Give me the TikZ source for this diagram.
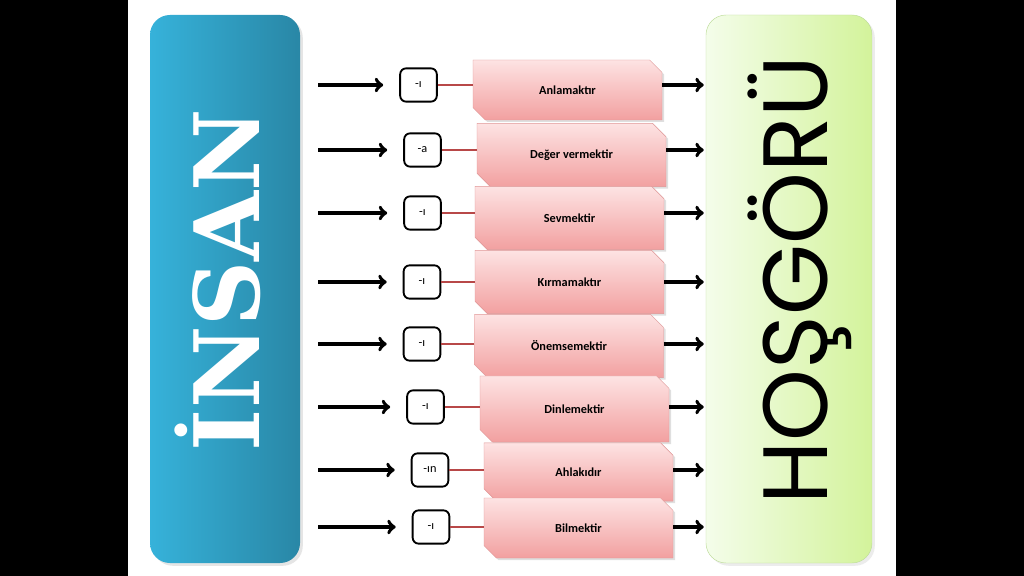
\documentclass[tikz,border=0pt]{standalone}
\usepackage{fontspec}
\setmainfont{Carlito}
\newfontfamily\insanfont{DejaVu Serif}
\newfontfamily\hosfont{Poppins}
\usetikzlibrary{shapes.misc,shadows,arrows}

\definecolor{maviA}{HTML}{36B2DA}
\definecolor{maviB}{HTML}{2987A6}
\definecolor{yesilA}{HTML}{F4FDEA}
\definecolor{yesilB}{HTML}{D3F39B}
\definecolor{yesilCizgi}{HTML}{BFDD9C}
\definecolor{pembeA}{HTML}{FDE3E3}
\definecolor{pembeB}{HTML}{F2A0A0}
\definecolor{pembeCizgi}{HTML}{E09696}
\definecolor{bagKirmizi}{HTML}{B84848}

\begin{document}
\begin{tikzpicture}[x=0.3mm,y=-0.3mm,
  ek/.style={rectangle, draw, rounded corners=1.8mm, line width=1.6pt, fill=white, minimum width=11mm, minimum height=10mm, inner sep=0pt, font=\fontsize{10.5}{12}\selectfont},
  fiil/.style={chamfered rectangle, chamfered rectangle corners={north east,south west}, chamfered rectangle sep=2.4mm, draw=pembeCizgi, top color=pembeA, bottom color=pembeB, minimum width=56.7mm, minimum height=19mm, inner sep=0pt, font=\bfseries\fontsize{10.5}{12}\selectfont, drop shadow={opacity=0.25, shadow xshift=0.6mm, shadow yshift=-0.6mm}},
  ok/.style={->, line width=3.2pt},
  bag/.style={draw=bagKirmizi, line width=1.3pt}]

% zemin
\useasboundingbox (0,0) rectangle (1024,576);
\fill[black] (0,0) rectangle (1024,576);
\fill[white] (128,0) rectangle (896,576);

% iki yan kutu
\node[rectangle, rounded corners=6mm, left color=maviA, right color=maviB, minimum width=45mm, minimum height=164.4mm, drop shadow={opacity=0.2}] (insan) at (225,289) {};
\node[rotate=90, text=white, font=\insanfont\bfseries\fontsize{77}{80}\selectfont] (insanyazi) at (218,280) {İNSAN};
\node[rectangle, rounded corners=6mm, draw=yesilCizgi, left color=yesilA, right color=yesilB, minimum width=49.8mm, minimum height=164.4mm, drop shadow={opacity=0.15}] (hos) at (789,289) {};
\node[rotate=90, font=\hosfont\fontsize{78}{80}\selectfont] (hosyazi) at (800,280) {HOŞGÖRÜ};

% ekler
\node[ek] (e1) at (418.5,85) {-ı};
\node[ek] (e2) at (422.5,150) {-a};
\node[ek] (e3) at (422.5,213) {-ı};
\node[ek] (e4) at (422,282) {-ı};
\node[ek] (e5) at (422,344) {-ı};
\node[ek] (e6) at (425.5,407) {-ı};
\node[ek] (e7) at (430,470) {-ın};
\node[ek] (e8) at (431,527) {-ı};

% fiiller
\node[fiil, minimum height=18mm] (f1) at (567.5,90) {Anlamaktır};
\node[fiil] (f2) at (571.5,155) {Değer vermektir};
\node[fiil] (f3) at (569.5,218) {Sevmektir};
\node[fiil] (f4) at (569.5,282) {Kırmamaktır};
\node[fiil] (f5) at (569,346) {Önemsemektir};
\node[fiil, minimum height=19.8mm] (f6) at (574.5,409) {Dinlemektir};
\node[fiil, minimum height=17.5mm] (f7) at (578.5,472) {Ahlakıdır};
\node[fiil, minimum height=18mm] (f8) at (578.5,528) {Bilmektir};

% oklar ve baglar
\foreach \i in {1,...,8}{
  \draw[ok, shorten <=5.4mm, shorten >=4.8mm] (e\i -| insan.east) -- (e\i.west);
  \draw[bag] (e\i.east) -- (e\i -| f\i.west);
  \draw[ok, shorten >=0.6mm] (e\i -| f\i.east) -- (e\i -| hos.west);
}
\end{tikzpicture}
\end{document}
